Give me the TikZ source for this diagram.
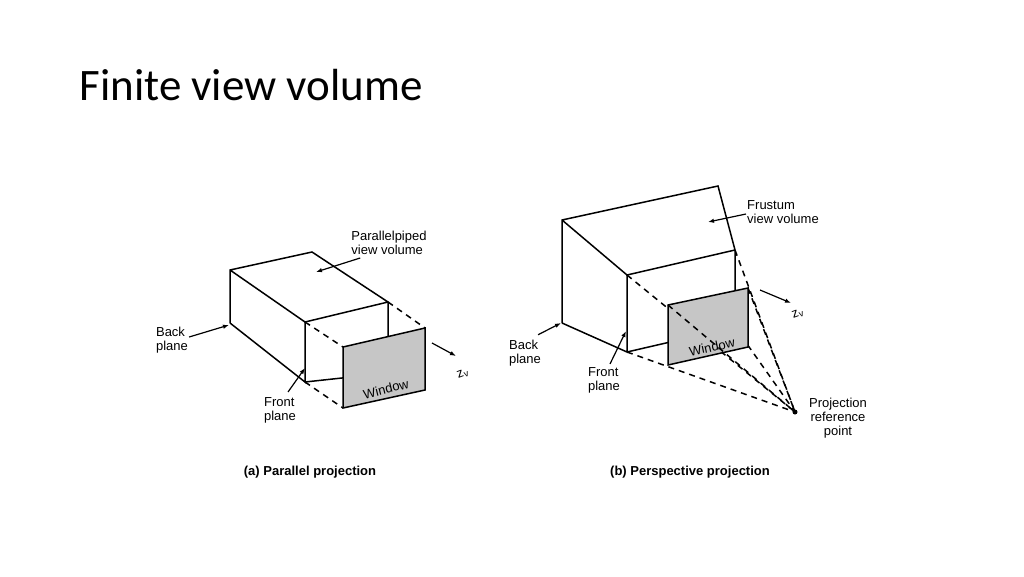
\documentclass[tikz,border=0pt]{standalone}
\usepackage{fontspec}
\setmainfont{Liberation Sans}
\newfontfamily\titlefont{Carlito}
\usetikzlibrary{positioning}
\usetikzlibrary{arrows.meta}

\begin{document}
\begin{tikzpicture}[x=1pt,y=-1pt,
    edge/.style={line width=1.5pt},
    hid/.style={line width=1.5pt, dash pattern=on 6pt off 5pt},
    win/.style={line width=1.5pt, fill=gray!45},
    lbl/.style={font=\fontsize{13}{14}\selectfont, align=left, inner sep=1pt},
    ptr/.style={line width=1.2pt, -{Latex[length=6pt]}}]
        \useasboundingbox (0,0) rectangle (1024,576);
        \node[anchor=west, font=\titlefont\fontsize{45}{48}\selectfont] (title) at (76,85) {Finite view volume};

        % (a) parallele
        \coordinate (aBT) at (230,270); \coordinate (aBR) at (312,252);
        \coordinate (aBB) at (230,323);
        \coordinate (aFT) at (305,322); \coordinate (aFR) at (388,302);
        \coordinate (aFB) at (305,382); \coordinate (aFBR) at (388,373);
        \coordinate (aW1) at (343,347); \coordinate (aW2) at (425,328);
        \coordinate (aW3) at (425,390); \coordinate (aW4) at (343,408);
        \draw[edge] (aBB) -- (aBT) -- (aBR) -- (aFR) -- (aFT) -- (aBT);
        \draw[edge] (aBB) -- (aFB) -- (aFT);
        \draw[edge] (aFR) -- (aFBR) -- (aFB);
        \draw[hid] (aFR) -- (aW2) (aFT) -- (aW1) (aFB) -- (aW4);
        \draw[win] (aW1) -- (aW2) -- (aW3) -- (aW4) -- cycle;
        \node[lbl, rotate=14] (awin) at (386,389) {Window};
        \node[lbl] (apar) at (389,243) {Parallelpiped\\view volume};
        \node[lbl] (aback) at (172,340) {Back\\plane};
        \node[lbl] (afront) at (280,410) {Front\\plane};
        \coordinate (aZ0) at (432,343); \coordinate (aZ1) at (456,356);
        \node[lbl, rotate=20] (az) at (463,374) {z$_{\mathrm v}$};
        \draw[ptr] (aZ0) -- (aZ1);
        \draw[ptr] (apar.south west) ++(10,2) -- (316,272);
        \draw[ptr] (aback.east) ++(0,-3) -- (229,325);
        \draw[ptr] (afront.north) ++(8,-4) -- (305,368);
        \node[font=\bfseries\fontsize{13}{14}\selectfont] (acap) at (310,472) {(a) Parallel projection};

        % (b) perspective
        \coordinate (bBT) at (562,220); \coordinate (bBR) at (718,186);
        \coordinate (bBB) at (562,323);
        \coordinate (bFT) at (627,275); \coordinate (bFR) at (735,250);
        \coordinate (bFB) at (627,352); \coordinate (bFBR) at (735,327);
        \coordinate (bW1) at (668,305); \coordinate (bW2) at (748,288);
        \coordinate (bW3) at (748,347); \coordinate (bW4) at (668,365);
        \coordinate (prp) at (795,412);
        \draw[edge] (bBB) -- (bBT) -- (bBR) -- (bFR) -- (bFT) -- (bBT);
        \draw[edge] (bBB) -- (bFB) -- (bFT);
        \draw[edge] (bFR) -- (bFBR) -- (bFB);
        \draw[hid] (bFT) -- (prp) (bFB) -- (prp) (bFR) -- (prp) (bFBR) -- (prp);
        \draw[win] (bW1) -- (bW2) -- (bW3) -- (bW4) -- cycle;
        \draw[hid] (bW1) -- (prp) (bW2) -- (prp);
        \fill (prp) circle (2.5pt);
        \node[lbl, rotate=12] (bwin) at (712,347) {Window};
        \node[lbl] (bfru) at (783,212) {Frustum\\view volume};
        \node[lbl] (bback) at (525,353) {Back\\plane};
        \node[lbl] (bfront) at (604,380) {Front\\plane};
        \node[lbl, align=center] (bprp) at (838,418) {Projection\\reference\\point};
        \coordinate (bZ0) at (760,290); \coordinate (bZ1) at (791,303);
        \node[lbl, rotate=20] (bz) at (798,314) {z$_{\mathrm v}$};
        \draw[ptr] (bZ0) -- (bZ1);
        \draw[ptr] (bfru.west) ++(0,2) -- (708,222);
        \draw[ptr] (bback.north east) ++(-4,-4) -- (561,323);
        \draw[ptr] (bfront.north) ++(6,-2) -- (626,331);
        \node[font=\bfseries\fontsize{13}{14}\selectfont] (bcap) at (690,472) {(b) Perspective projection};
\end{tikzpicture}
\end{document}
